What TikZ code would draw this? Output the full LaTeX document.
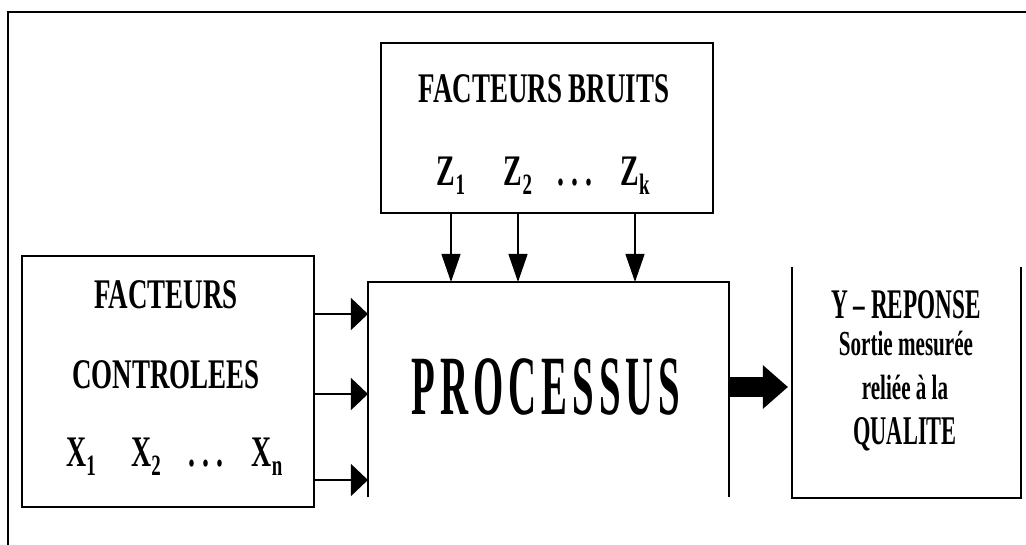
\documentclass[tikz,border=0pt]{standalone}
\usepackage{fontspec}
\setmainfont{Liberation Serif}
\newfontfamily\boxfont[FakeStretch=0.64]{Liberation Serif}
\newfontfamily\procfont[FakeStretch=0.46,LetterSpace=6]{Liberation Serif}
\newfontfamily\outfont[FakeStretch=0.55]{Liberation Serif}
\newfontfamily\notefont[FakeStretch=0.6]{Liberation Serif}
\usetikzlibrary{arrows.meta,positioning}
\newcommand{\idx}[1]{\raisebox{-0.22em}{\fontsize{21}{21}\selectfont #1}}

\begin{document}
\begin{tikzpicture}[x=0.025cm,y=-0.025cm,line join=miter]
% Styles
\tikzstyle{box}=[draw=black,line width=1.2pt,inner sep=0pt,outer sep=0pt]
\tikzstyle{open box}=[inner sep=0pt,outer sep=0pt]
\tikzstyle{title text}=[anchor=base,inner sep=0pt,font=\boxfont\bfseries\fontsize{30}{30}\selectfont]
\tikzstyle{index text}=[anchor=base,inner sep=0pt,font=\boxfont\bfseries\fontsize{31}{31}\selectfont]
\tikzstyle{right arrow}=[line width=0.9pt,-{Triangle[length=0.425cm,width=0.8cm]}]
\tikzstyle{down arrow}=[line width=0.9pt,-{Triangle[length=0.7cm,width=0.475cm]}]

\useasboundingbox (0,0) rectangle (1026,545);

% outer frame (only top and left are seen)
\draw[line width=1.2pt] (8,560) -- (8,12) -- (1040,12);

% draw the boxes
\node[box,minimum width=8.3cm,minimum height=4.25cm] (bruits) at (547,128) {};
\node[box,minimum width=7.3cm,minimum height=6.275cm] (ctrl) at (168,381.5) {};
\node[open box,minimum width=9.025cm,minimum height=5.375cm] (proc) at (548.5,389.5) {};
\node[open box,minimum width=5.725cm,minimum height=5.775cm] (resp) at (906.5,382.5) {};
\draw[line width=1pt] (proc.south west) -- (proc.north west) -- (proc.north east) -- (proc.south east);
\draw[line width=1pt] (resp.north west) -- (resp.south west) -- (resp.south east) -- (resp.north east);

% texts of the boxes
\node[title text] (bruitstitle) at (544,103) {FACTEURS BRUITS};
\node[title text] (ctrltitle) at (166,308) {FACTEURS};
\node[title text] (ctrlsub) at (166,388) {CONTROLEES};
\node[anchor=base,inner sep=0pt,font=\procfont\bfseries\fontsize{60}{60}\selectfont] (proctext) at (546,414) {PROCESSUS};
\node[anchor=base,inner sep=0pt,font=\outfont\bfseries\fontsize{30}{30}\selectfont] (resptitle) at (906,318) {Y – REPONSE};
\node[anchor=base,inner sep=0pt,font=\notefont\bfseries\fontsize{25}{25}\selectfont] (respa) at (906,355) {Sortie mesurée};
\node[anchor=base,inner sep=0pt,font=\notefont\bfseries\fontsize{25}{25}\selectfont] (respb) at (905,399) {reliée à la};
\node[anchor=base,inner sep=0pt,font=\outfont\bfseries\fontsize{29}{29}\selectfont] (respc) at (905,444) {QUALITE};

% the factors X and the inputs of the process
\foreach \n/\x/\s in {x1/81/1, x2/146/2, xn/267/n} {
\node[index text] (\n) at (\x,466) {X\idx{\s}};
}
\node[index text] (xdots) at (206,466) {.\,.\,.};
\foreach \y in {314,394,480} {
\draw[right arrow] (ctrl.east |- 0,\y) -- (proc.west |- 0,\y);
}

% the factors Z and the noise arrows
\node[index text] (zdots) at (575,185) {.\,.\,.};
\foreach \n/\x/\s in {z1/451/1, z2/518/2, zk/635/k} {
\node[index text] (\n) at (\x,185) {Z\idx{\s}};
\draw[down arrow] (bruits.south -| \n) -- (proc.north -| \n);
}

% output of the process
\draw[line width=0.5cm,-{Triangle[length=0.625cm,width=1.05cm]},shorten >=0.1cm] (proc.east |- 0,387) -- (resp.west |- 0,387);

\end{tikzpicture}
\end{document}
